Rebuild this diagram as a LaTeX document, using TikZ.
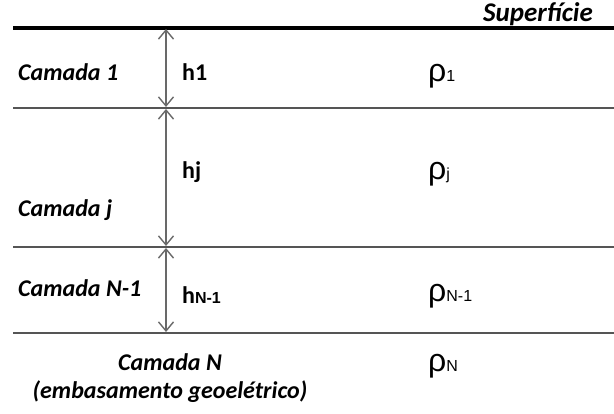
\documentclass[tikz,border=0pt]{standalone}
\usepackage{fontspec}
\setmainfont{Carlito}
\newfontfamily\greekfont{Liberation Sans}
\usepackage{tikz}
\usetikzlibrary{arrows.meta, positioning, calc}
\definecolor{layerline}{RGB}{85,85,85}
\definecolor{arrowgray}{RGB}{105,105,105}
\tikzset{
  %% ---- lines ----
  surfline/.style  = {line width=3.5pt, color=black},
  layerline/.style = {line width=1.6pt, color=layerline},
  thickarrow/.style= {{Straight Barb[length=9pt,width=15pt]}-{Straight Barb[length=9pt,width=15pt]},
                      line width=1.4pt, color=arrowgray, shorten >=1pt, shorten <=1pt},
  %% ---- labels ----
  layername/.style = {inner sep=0pt, font=\fontsize{24}{28}\selectfont\bfseries\itshape},
  thick/.style     = {inner sep=0pt, font=\fontsize{24}{28}\selectfont\bfseries},
  resist/.style    = {inner sep=0pt, font=\greekfont\fontsize{32}{34}\selectfont},
}
\newcommand{\subsm}[1]{{\greekfont\fontsize{16}{16}\selectfont #1}}

\begin{document}
\begin{tikzpicture}[x=1pt, y=-1pt]
  \useasboundingbox (0,0) rectangle (614,414);

  %% interfaces
  \coordinate (l0) at (13,28);
  \coordinate (l1) at (13,108);
  \coordinate (l2) at (13,247);
  \coordinate (l3) at (13,333);
  \draw[surfline]  (l0) -- ++(601,0);
  \draw[layerline] (l1) -- ++(601,0);
  \draw[layerline] (l2) -- ++(601,0);
  \draw[layerline] (l3) -- ++(601,0);

  %% thickness arrows
  \coordinate (a0) at ($(l0)+(153,0)$);
  \coordinate (a1) at ($(l1)+(153,0)$);
  \coordinate (a2) at ($(l2)+(153,0)$);
  \coordinate (a3) at ($(l3)+(153,0)$);
  \draw[thickarrow] (a0) -- (a1);
  \draw[thickarrow] (a1) -- (a2);
  \draw[thickarrow] (a2) -- (a3);

  %% labels
  \node[layername, anchor=base east, font=\fontsize{27}{30}\selectfont\bfseries\itshape]
    (sup) at (593,22) {Superfície};

  \node[layername, anchor=west] (c1) at (18,72)  {Camada 1};
  \node[layername, anchor=west] (cj) at (18,210) {Camada j};
  \node[layername, anchor=west] (cn1) at (18,288) {Camada N-1};
  \node[layername, align=center] (cn) at (170,378)
    {Camada N\\(embasamento geoelétrico)};

  \node[thick, anchor=west] (h1) at (182,72)  {h1};
  \node[thick, anchor=west] (hj) at (182,172) {hj};
  \node[thick, anchor=west] (hn1) at (182,295) {h\subsm{N-1}};

  \node[resist, anchor=base west] (r1) at (428,82)  {ρ\subsm{1}};
  \node[resist, anchor=base west] (rj) at (428,180) {ρ\subsm{j}};
  \node[resist, anchor=base west] (rn1) at (428,302) {ρ\subsm{N-1}};
  \node[resist, anchor=base west] (rn) at (428,372) {ρ\subsm{N}};
\end{tikzpicture}
\end{document}
